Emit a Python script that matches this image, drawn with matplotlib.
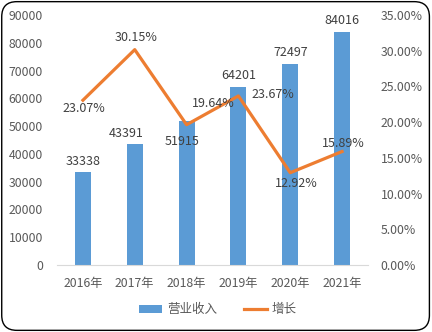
import matplotlib
matplotlib.use('Agg')
import matplotlib.pyplot as plt
from matplotlib.patches import FancyBboxPatch

plt.rcParams['font.family'] = ['Noto Sans CJK SC', 'DejaVu Sans']

years = ['2016年', '2017年', '2018年', '2019年', '2020年', '2021年']
revenue = [33338, 43391, 51915, 64201, 72497, 84016]
growth = [23.07, 30.15, 19.64, 23.67, 12.92, 15.89]
left_ticks = [0, 10000, 20000, 30000, 40000, 50000, 60000, 70000, 80000, 90000]
right_ticks = [0, 5, 10, 15, 20, 25, 30, 35]

BLUE = '#5B9BD5'
ORANGE = '#ED7D31'
TXT = '#595959'

fig = plt.figure(figsize=(4.32, 3.32), dpi=100)
ax = fig.add_axes([57 / 432, 67 / 332, 311 / 432, 250 / 332])
ax2 = ax.twinx()

x = list(range(len(years)))
ax.bar(x, revenue, width=0.31, color=BLUE, label='营业收入', zorder=2)
ax2.plot(x, growth, color=ORANGE, lw=2.3, label='增长', zorder=3)

ax.set_xlim(-0.5, len(years) - 0.5)
ax.set_ylim(0, 90000)
ax2.set_ylim(0, 35)
ax.set_yticks(left_ticks)
ax.set_yticklabels([str(v) for v in left_ticks])
ax2.set_yticks(right_ticks)
ax2.set_yticklabels(['%.2f%%' % v for v in right_ticks])
ax.set_xticks(x)
ax.set_xticklabels(years)

for a in (ax, ax2):
    for s in a.spines.values():
        s.set_visible(False)
    a.tick_params(length=0, labelsize=8.8, colors=TXT)
ax.spines['bottom'].set_visible(True)
ax.spines['bottom'].set_color('#D9D9D9')
ax.tick_params(axis='y', pad=10)
ax2.tick_params(axis='y', pad=9)
ax.tick_params(axis='x', pad=9)

# bar labels (offsets in points, the 2018 one sits inside the bar like the original)
bar_off = [(0, 8), (-6, 8), (-3, -15), (0, 8), (0, 8), (0, 8)]
for i, v in enumerate(revenue):
    ax.annotate(str(v), (i, v), xytext=bar_off[i], textcoords='offset points',
                ha='center', va='center', fontsize=9, color='#404040', zorder=4)

line_off = [(1, -6), (1, 9), (19, 15), (25, 1), (4, -8), (1, 6)]
for i, v in enumerate(growth):
    ax2.annotate('%.2f%%' % v, (i, v), xytext=line_off[i], textcoords='offset points',
                 ha='center', va='center', fontsize=9, color='#404040', zorder=5)

h1, l1 = ax.get_legend_handles_labels()
h2, l2 = ax2.get_legend_handles_labels()
fig.legend(h1 + h2, l1 + l2, loc='center', bbox_to_anchor=(218 / 432, 1 - 310 / 332),
           ncol=2, frameon=False, fontsize=9, labelcolor=TXT,
           handlelength=1.8, handleheight=0.6, columnspacing=2.2, handletextpad=0.4)

border = FancyBboxPatch((0.004, 0.005), 0.99, 0.99, boxstyle='round,pad=0,rounding_size=0.035',
                        mutation_aspect=432 / 332, transform=fig.transFigure,
                        fill=False, ec='black', lw=1.0)
fig.patches.append(border)

fig.savefig('out.png', dpi=100)
